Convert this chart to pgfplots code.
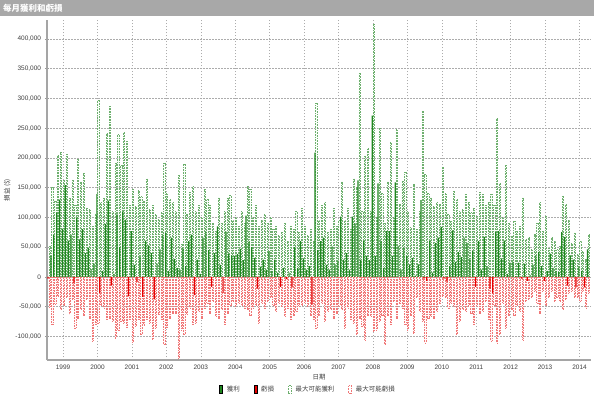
\documentclass[border=0pt]{standalone}
\usepackage{pgfplots}
\pgfplotsset{compat=1.18}
\usepackage{pgfplotstable}
\usepackage{fontspec}
\setmainfont{Liberation Sans}
\newfontfamily\cjk{Noto Sans CJK TC}
\definecolor{hdr}{RGB}{168,168,168}
\definecolor{gsolid}{RGB}{30,135,30}
\definecolor{rsolid}{RGB}{230,0,0}
\definecolor{gdash}{RGB}{110,175,110}
\definecolor{rdash}{RGB}{240,120,120}
\definecolor{axgray}{RGB}{165,165,165}
\pgfplotstableread{
m P L MP ML
-5 0 -3 52 -51
-4 35 0 150 -80
-3 70 0 128 -46
-2 108 0 205 -33
-1 130 0 210 -55
0 81 0 163 -47
1 154 0 206 -35
2 61 0 133 -62
3 71 0 163 -38
4 0 -11 120 -86
5 100 0 198 -69
6 63 0 160 -55
7 80 0 175 -64
8 40 0 116 -38
9 49 0 113 -69
10 13 0 85 -108
11 22 0 105 -80
12 139 0 297 -78
13 0 -27 125 -47
14 10 0 133 -52
15 89 0 241 -72
16 128 0 287 -69
17 0 -15 110 -75
18 5 0 192 -103
19 105 0 240 -90
20 50 0 187 -75
21 110 0 243 -78
22 96 0 228 -85
23 0 -33 120 -72
24 77 0 147 -110
25 20 0 118 -83
26 0 -9 145 -72
27 33 0 135 -97
28 0 -34 128 -81
29 61 0 165 -72
30 53 0 113 -78
31 40 0 120 -105
32 0 -38 105 -86
33 22 0 97 -63
34 46 0 108 -72
35 71 0 192 -114
36 74 0 140 -85
37 10 0 130 -69
38 66 0 125 -61
39 30 0 110 -61
40 15 0 171 -137
41 12 0 55 -89
42 48 0 190 -97
43 18 0 105 -63
44 60 0 142 -52
45 71 0 152 -80
46 0 -31 110 -78
47 29 0 120 -58
48 5 0 100 -69
49 66 0 148 -52
50 76 0 130 -44
51 45 0 120 -61
52 0 -17 91 -41
53 40 0 77 -66
54 85 0 133 -69
55 20 0 90 -55
56 0 -27 110 -80
57 76 0 133 -61
58 38 0 138 -47
59 36 0 95 -41
60 35 0 100 -49
61 38 0 85 -44
62 47 0 110 -47
63 28 0 90 -52
64 103 0 152 -55
65 59 0 147 -64
66 50 0 100 -52
67 32 0 120 -47
68 0 -20 85 -78
69 17 0 95 -44
70 29 0 105 -52
71 12 0 90 -41
72 43 0 100 -35
73 10 0 80 -47
74 29 0 85 -58
75 7 0 70 -44
76 0 -17 75 -49
77 15 0 90 -66
78 0 -4 60 -52
79 7 0 85 -72
80 0 -18 80 -64
81 50 0 110 -58
82 15 0 75 -49
83 60 0 115 -47
84 31 0 85 -44
85 12 0 70 -49
86 18 0 80 -64
87 0 -47 60 -72
88 209 0 292 -86
89 45 0 95 -64
90 60 0 120 -44
91 66 0 125 -75
92 20 0 75 -58
93 12 0 80 -55
94 51 0 115 -69
95 21 0 85 -61
96 26 0 95 -49
97 101 0 160 -55
98 29 0 95 -86
99 40 0 115 -52
100 12 0 80 -72
101 101 0 165 -78
102 90 0 150 -97
103 162 0 343 -69
104 29 0 110 -83
105 60 0 203 -106
106 35 0 216 -64
107 28 0 110 -66
108 271 0 425 -92
109 35 0 100 -89
110 157 0 250 -75
111 60 0 140 -64
112 15 0 90 -114
113 77 0 160 -64
114 77 0 226 -80
115 35 0 100 -41
116 159 0 248 -69
117 52 0 122 -44
118 12 0 161 -52
119 49 0 176 -80
120 35 0 110 -89
121 21 0 83 -64
122 32 0 155 -94
123 2 0 80 -35
124 21 0 110 -58
125 129 0 279 -75
126 0 -3 172 -111
127 0 -7 140 -69
128 60 0 133 -66
129 7 0 119 -69
130 57 0 125 -58
131 66 0 122 -44
132 84 0 185 -33
133 0 -3 140 -35
134 0 -8 105 -52
135 18 0 94 -44
136 78 0 144 -49
137 25 0 130 -97
138 42 0 111 -75
139 33 0 113 -55
140 66 0 139 -58
141 57 0 125 -49
142 31 0 108 -61
143 43 0 116 -80
144 0 -17 102 -49
145 60 0 142 -61
146 12 0 139 -58
147 67 0 120 -41
148 18 0 125 -72
149 0 -20 139 -108
150 0 -28 120 -47
151 75 0 267 -111
152 77 0 157 -97
153 31 0 100 -44
154 61 0 188 -86
155 5 0 90 -64
156 24 0 69 -55
157 25 0 94 -64
158 1 0 77 -47
159 24 0 85 -58
160 0 -3 133 -106
161 22 0 63 -41
162 0 -7 66 -38
163 3 0 46 -35
164 20 0 71 -24
165 35 0 90 -44
166 42 0 125 -61
167 18 0 77 -24
168 0 -7 102 -47
169 10 0 49 -35
170 39 0 66 -24
171 15 0 60 -41
172 10 0 46 -35
173 8 0 52 -41
174 75 0 136 -55
175 67 0 122 -38
176 0 -15 95 -27
177 36 0 57 -24
178 29 0 74 -35
179 0 -18 38 -35
180 17 0 60 -41
181 10 0 43 -24
182 0 -18 29 -52
183 46 0 71 -27
}\monthly
\begin{document}
\begin{tikzpicture}
\useasboundingbox (0,0) rectangle (594bp,398bp);
\fill[white] (0,0) rectangle (594bp,398bp);
\fill[hdr] (0,382bp) rectangle (594bp,398bp);
\node[anchor=west, text=white, inner sep=0pt, font=\cjk\bfseries\fontsize{8.5}{10}\selectfont] at (3bp,390bp) {每月獲利和虧損};
\begin{axis}[
  at={(47bp,38bp)}, anchor=south west,
  width=544bp, height=340bp, scale only axis,
  xmin=-5.6, xmax=184, ymin=-140, ymax=432,
  axis x line*=bottom, axis y line*=left,
  axis line style={draw=axgray, line width=1.6bp, -},
  xtick={0,12,...,180},
  xticklabels={1999,2000,2001,2002,2003,2004,2005,2006,2007,2008,2009,2010,2011,2012,2013,2014},
  ytick={-100,-50,...,400},
  yticklabels={{-100,000},{-50,000},{0},{50,000},{100,000},{150,000},{200,000},{250,000},{300,000},{350,000},{400,000}},
  grid=major,
  major grid style={draw=gray!65, line width=0.5bp, dash pattern=on 1.5bp off 1.5bp},
  tick style={draw=gray!80, line width=0.5bp},
  major tick length=3bp, tick align=center,
  x tick style={draw=none},
  tick label style={font=\fontsize{6.5}{7}\selectfont, text=black!75},
  yticklabel style={xshift=-1bp},
  xlabel={\cjk 日期},
  xlabel style={font=\cjk\fontsize{6.5}{7}\selectfont, text=black!75, yshift=2bp},
  ylabel={\cjk 損益 (\$)},
  ylabel style={font=\cjk\fontsize{6.5}{7}\selectfont, text=black!75, yshift=-2bp},
  legend style={at={(axis description cs:0.48,0)}, anchor=north, yshift=-22bp, draw=none, fill=none,
    font=\cjk\fontsize{6.5}{7}\selectfont, text=black!75, legend columns=4,
    /tikz/every even column/.append style={column sep=12bp},
    /tikz/every odd column/.append style={column sep=2bp}},
  legend image code/.code={\draw[#1] (0bp,-3.5bp) rectangle (3bp,4bp);},
]
\addplot[ybar, bar width=0.4, bar shift=0.22, draw=gdash, fill=green!3, line width=0.3bp, dash pattern=on 0.8bp off 0.8bp, forget plot] table[x=m, y=MP] {\monthly};
\addplot[ybar, bar width=0.4, bar shift=0.22, draw=rdash, fill=red!3, line width=0.3bp, dash pattern=on 0.8bp off 0.8bp, forget plot] table[x=m, y=ML] {\monthly};
\addplot[ybar, bar width=0.42, bar shift=-0.22, draw=none, fill=gsolid] table[x=m, y=P] {\monthly};
\addlegendentry{獲利}
\addplot[ybar, bar width=0.42, bar shift=-0.22, draw=none, fill=rsolid] table[x=m, y=L] {\monthly};
\addlegendentry{虧損}
\addlegendimage{draw=gdash, fill=white, line width=0.5bp, dash pattern=on 0.8bp off 0.8bp}
\addlegendentry{最大可能獲利}
\addlegendimage{draw=rdash, fill=white, line width=0.5bp, dash pattern=on 0.8bp off 0.8bp}
\addlegendentry{最大可能虧損}
\end{axis}
\end{tikzpicture}
\end{document}
